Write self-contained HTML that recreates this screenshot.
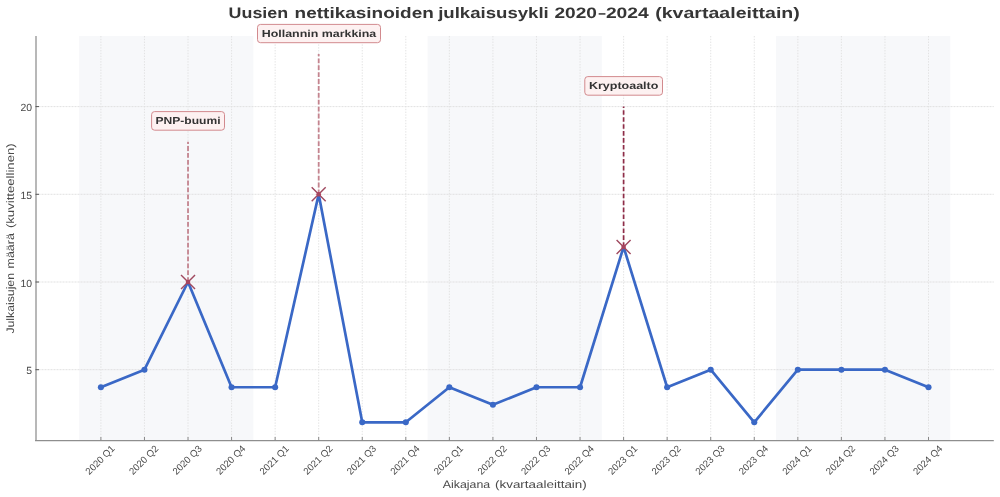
<!DOCTYPE html>
<html><head><meta charset="utf-8"><style>
html,body{margin:0;padding:0;background:#fff;width:1000px;height:497px;overflow:hidden}
svg{display:block;will-change:transform}
text{font-family:"Liberation Sans",sans-serif;text-rendering:geometricPrecision}
.tk{font-size:10.4px;fill:#484848}
.tkx{font-size:9.6px;fill:#484848}
.lab{font-size:10.8px;fill:#4a4a4a}
.title{font-size:15.2px;font-weight:bold;fill:#363636}
.ann{font-size:10.2px;font-weight:bold;fill:#333}
</style></head><body>
<svg width="1000" height="497" viewBox="0 0 1000 497">
<rect x="0" y="0" width="1000" height="497" fill="#ffffff"/>
<rect x="79.12" y="36.0" width="174.23" height="404.5" fill="#f7f8fa"/>
<rect x="427.59" y="36.0" width="174.23" height="404.5" fill="#f7f8fa"/>
<rect x="776.05" y="36.0" width="174.23" height="404.5" fill="#f7f8fa"/>
<line x1="35.5" y1="369.70" x2="993.8" y2="369.70" stroke="#dedede" stroke-width="0.9" stroke-dasharray="2 1"/>
<line x1="35.5" y1="282.00" x2="993.8" y2="282.00" stroke="#dedede" stroke-width="0.9" stroke-dasharray="2 1"/>
<line x1="35.5" y1="194.30" x2="993.8" y2="194.30" stroke="#dedede" stroke-width="0.9" stroke-dasharray="2 1"/>
<line x1="35.5" y1="106.60" x2="993.8" y2="106.60" stroke="#dedede" stroke-width="0.9" stroke-dasharray="2 1"/>
<line x1="100.90" y1="36.0" x2="100.90" y2="440.5" stroke="#e0e0e0" stroke-width="0.9" stroke-dasharray="1.4 1.4"/>
<line x1="144.46" y1="36.0" x2="144.46" y2="440.5" stroke="#e0e0e0" stroke-width="0.9" stroke-dasharray="1.4 1.4"/>
<line x1="188.02" y1="36.0" x2="188.02" y2="440.5" stroke="#e0e0e0" stroke-width="0.9" stroke-dasharray="1.4 1.4"/>
<line x1="231.57" y1="36.0" x2="231.57" y2="440.5" stroke="#e0e0e0" stroke-width="0.9" stroke-dasharray="1.4 1.4"/>
<line x1="275.13" y1="36.0" x2="275.13" y2="440.5" stroke="#e0e0e0" stroke-width="0.9" stroke-dasharray="1.4 1.4"/>
<line x1="318.69" y1="36.0" x2="318.69" y2="440.5" stroke="#e0e0e0" stroke-width="0.9" stroke-dasharray="1.4 1.4"/>
<line x1="362.25" y1="36.0" x2="362.25" y2="440.5" stroke="#e0e0e0" stroke-width="0.9" stroke-dasharray="1.4 1.4"/>
<line x1="405.81" y1="36.0" x2="405.81" y2="440.5" stroke="#e0e0e0" stroke-width="0.9" stroke-dasharray="1.4 1.4"/>
<line x1="449.36" y1="36.0" x2="449.36" y2="440.5" stroke="#e0e0e0" stroke-width="0.9" stroke-dasharray="1.4 1.4"/>
<line x1="492.92" y1="36.0" x2="492.92" y2="440.5" stroke="#e0e0e0" stroke-width="0.9" stroke-dasharray="1.4 1.4"/>
<line x1="536.48" y1="36.0" x2="536.48" y2="440.5" stroke="#e0e0e0" stroke-width="0.9" stroke-dasharray="1.4 1.4"/>
<line x1="580.04" y1="36.0" x2="580.04" y2="440.5" stroke="#e0e0e0" stroke-width="0.9" stroke-dasharray="1.4 1.4"/>
<line x1="623.60" y1="36.0" x2="623.60" y2="440.5" stroke="#e0e0e0" stroke-width="0.9" stroke-dasharray="1.4 1.4"/>
<line x1="667.15" y1="36.0" x2="667.15" y2="440.5" stroke="#e0e0e0" stroke-width="0.9" stroke-dasharray="1.4 1.4"/>
<line x1="710.71" y1="36.0" x2="710.71" y2="440.5" stroke="#e0e0e0" stroke-width="0.9" stroke-dasharray="1.4 1.4"/>
<line x1="754.27" y1="36.0" x2="754.27" y2="440.5" stroke="#e0e0e0" stroke-width="0.9" stroke-dasharray="1.4 1.4"/>
<line x1="797.83" y1="36.0" x2="797.83" y2="440.5" stroke="#e0e0e0" stroke-width="0.9" stroke-dasharray="1.4 1.4"/>
<line x1="841.39" y1="36.0" x2="841.39" y2="440.5" stroke="#e0e0e0" stroke-width="0.9" stroke-dasharray="1.4 1.4"/>
<line x1="884.94" y1="36.0" x2="884.94" y2="440.5" stroke="#e0e0e0" stroke-width="0.9" stroke-dasharray="1.4 1.4"/>
<line x1="928.50" y1="36.0" x2="928.50" y2="440.5" stroke="#e0e0e0" stroke-width="0.9" stroke-dasharray="1.4 1.4"/>
<rect x="35" y="36.0" width="2" height="404.5" fill="#b8b8b8"/>
<rect x="35" y="440" width="958.80" height="1" fill="#8e8e8e"/><rect x="35" y="441" width="958.80" height="0.5" fill="#c8c8c8"/>
<line x1="35.5" y1="369.70" x2="39.0" y2="369.70" stroke="#555" stroke-width="1"/>
<line x1="35.5" y1="282.00" x2="39.0" y2="282.00" stroke="#555" stroke-width="1"/>
<line x1="35.5" y1="194.30" x2="39.0" y2="194.30" stroke="#555" stroke-width="1"/>
<line x1="35.5" y1="106.60" x2="39.0" y2="106.60" stroke="#555" stroke-width="1"/>
<line x1="100.90" y1="440.5" x2="100.90" y2="437.0" stroke="#888" stroke-width="1"/>
<line x1="144.46" y1="440.5" x2="144.46" y2="437.0" stroke="#888" stroke-width="1"/>
<line x1="188.02" y1="440.5" x2="188.02" y2="437.0" stroke="#888" stroke-width="1"/>
<line x1="231.57" y1="440.5" x2="231.57" y2="437.0" stroke="#888" stroke-width="1"/>
<line x1="275.13" y1="440.5" x2="275.13" y2="437.0" stroke="#888" stroke-width="1"/>
<line x1="318.69" y1="440.5" x2="318.69" y2="437.0" stroke="#888" stroke-width="1"/>
<line x1="362.25" y1="440.5" x2="362.25" y2="437.0" stroke="#888" stroke-width="1"/>
<line x1="405.81" y1="440.5" x2="405.81" y2="437.0" stroke="#888" stroke-width="1"/>
<line x1="449.36" y1="440.5" x2="449.36" y2="437.0" stroke="#888" stroke-width="1"/>
<line x1="492.92" y1="440.5" x2="492.92" y2="437.0" stroke="#888" stroke-width="1"/>
<line x1="536.48" y1="440.5" x2="536.48" y2="437.0" stroke="#888" stroke-width="1"/>
<line x1="580.04" y1="440.5" x2="580.04" y2="437.0" stroke="#888" stroke-width="1"/>
<line x1="623.60" y1="440.5" x2="623.60" y2="437.0" stroke="#888" stroke-width="1"/>
<line x1="667.15" y1="440.5" x2="667.15" y2="437.0" stroke="#888" stroke-width="1"/>
<line x1="710.71" y1="440.5" x2="710.71" y2="437.0" stroke="#888" stroke-width="1"/>
<line x1="754.27" y1="440.5" x2="754.27" y2="437.0" stroke="#888" stroke-width="1"/>
<line x1="797.83" y1="440.5" x2="797.83" y2="437.0" stroke="#888" stroke-width="1"/>
<line x1="841.39" y1="440.5" x2="841.39" y2="437.0" stroke="#888" stroke-width="1"/>
<line x1="884.94" y1="440.5" x2="884.94" y2="437.0" stroke="#888" stroke-width="1"/>
<line x1="928.50" y1="440.5" x2="928.50" y2="437.0" stroke="#888" stroke-width="1"/>
<text x="32" y="374.40" text-anchor="end" class="tk">5</text>
<text x="32" y="286.70" text-anchor="end" class="tk">10</text>
<text x="32" y="199.00" text-anchor="end" class="tk">15</text>
<text x="32" y="111.30" text-anchor="end" class="tk">20</text>
<text transform="translate(115.40,449.3) rotate(-45)" text-anchor="end" class="tkx">2020 Q1</text>
<text transform="translate(158.96,449.3) rotate(-45)" text-anchor="end" class="tkx">2020 Q2</text>
<text transform="translate(202.52,449.3) rotate(-45)" text-anchor="end" class="tkx">2020 Q3</text>
<text transform="translate(246.07,449.3) rotate(-45)" text-anchor="end" class="tkx">2020 Q4</text>
<text transform="translate(289.63,449.3) rotate(-45)" text-anchor="end" class="tkx">2021 Q1</text>
<text transform="translate(333.19,449.3) rotate(-45)" text-anchor="end" class="tkx">2021 Q2</text>
<text transform="translate(376.75,449.3) rotate(-45)" text-anchor="end" class="tkx">2021 Q3</text>
<text transform="translate(420.31,449.3) rotate(-45)" text-anchor="end" class="tkx">2021 Q4</text>
<text transform="translate(463.86,449.3) rotate(-45)" text-anchor="end" class="tkx">2022 Q1</text>
<text transform="translate(507.42,449.3) rotate(-45)" text-anchor="end" class="tkx">2022 Q2</text>
<text transform="translate(550.98,449.3) rotate(-45)" text-anchor="end" class="tkx">2022 Q3</text>
<text transform="translate(594.54,449.3) rotate(-45)" text-anchor="end" class="tkx">2022 Q4</text>
<text transform="translate(638.10,449.3) rotate(-45)" text-anchor="end" class="tkx">2023 Q1</text>
<text transform="translate(681.65,449.3) rotate(-45)" text-anchor="end" class="tkx">2023 Q2</text>
<text transform="translate(725.21,449.3) rotate(-45)" text-anchor="end" class="tkx">2023 Q3</text>
<text transform="translate(768.77,449.3) rotate(-45)" text-anchor="end" class="tkx">2023 Q4</text>
<text transform="translate(812.33,449.3) rotate(-45)" text-anchor="end" class="tkx">2024 Q1</text>
<text transform="translate(855.89,449.3) rotate(-45)" text-anchor="end" class="tkx">2024 Q2</text>
<text transform="translate(899.44,449.3) rotate(-45)" text-anchor="end" class="tkx">2024 Q3</text>
<text transform="translate(943.00,449.3) rotate(-45)" text-anchor="end" class="tkx">2024 Q4</text>
<text x="442.80" y="488" class="lab" textLength="47.40" lengthAdjust="spacingAndGlyphs">Aikajana</text>
<text x="495.00" y="488" class="lab" textLength="91.80" lengthAdjust="spacingAndGlyphs">(kvartaaleittain)</text>
<text transform="translate(13.8,333.60) rotate(-90)" class="lab" textLength="60.60" lengthAdjust="spacingAndGlyphs">Julkaisujen</text>
<text transform="translate(13.8,268.40) rotate(-90)" class="lab" textLength="35.20" lengthAdjust="spacingAndGlyphs">määrä</text>
<text transform="translate(13.8,228.10) rotate(-90)" class="lab" textLength="84.80" lengthAdjust="spacingAndGlyphs">(kuvitteellinen)</text>
<text x="228.60" y="17.6" class="title" textLength="59.60" lengthAdjust="spacingAndGlyphs">Uusien</text>
<text x="294.60" y="17.6" class="title" textLength="139.20" lengthAdjust="spacingAndGlyphs">nettikasinoiden</text>
<text x="438.20" y="17.6" class="title" textLength="110.60" lengthAdjust="spacingAndGlyphs">julkaisusykli</text>
<text x="554.50" y="17.6" class="title" textLength="42.50" lengthAdjust="spacingAndGlyphs">2020</text>
<text x="598.20" y="17.6" class="title" textLength="7.60" lengthAdjust="spacingAndGlyphs">–</text>
<text x="605.90" y="17.6" class="title" textLength="42.90" lengthAdjust="spacingAndGlyphs">2024</text>
<text x="655.20" y="17.6" class="title" textLength="144.60" lengthAdjust="spacingAndGlyphs">(kvartaaleittain)</text>
<polyline points="100.90,387.24 144.46,369.70 188.02,282.00 231.57,387.24 275.13,387.24 318.69,194.30 362.25,422.32 405.81,422.32 449.36,387.24 492.92,404.78 536.48,387.24 580.04,387.24 623.60,246.92 667.15,387.24 710.71,369.70 754.27,422.32 797.83,369.70 841.39,369.70 884.94,369.70 928.50,387.24" fill="none" stroke="#3a68c6" stroke-width="2.7" stroke-linejoin="round" stroke-linecap="round"/>
<circle cx="100.90" cy="387.24" r="3.05" fill="#3a68c6"/>
<circle cx="144.46" cy="369.70" r="3.05" fill="#3a68c6"/>
<circle cx="231.57" cy="387.24" r="3.05" fill="#3a68c6"/>
<circle cx="275.13" cy="387.24" r="3.05" fill="#3a68c6"/>
<circle cx="362.25" cy="422.32" r="3.05" fill="#3a68c6"/>
<circle cx="405.81" cy="422.32" r="3.05" fill="#3a68c6"/>
<circle cx="449.36" cy="387.24" r="3.05" fill="#3a68c6"/>
<circle cx="492.92" cy="404.78" r="3.05" fill="#3a68c6"/>
<circle cx="536.48" cy="387.24" r="3.05" fill="#3a68c6"/>
<circle cx="580.04" cy="387.24" r="3.05" fill="#3a68c6"/>
<circle cx="667.15" cy="387.24" r="3.05" fill="#3a68c6"/>
<circle cx="710.71" cy="369.70" r="3.05" fill="#3a68c6"/>
<circle cx="754.27" cy="422.32" r="3.05" fill="#3a68c6"/>
<circle cx="797.83" cy="369.70" r="3.05" fill="#3a68c6"/>
<circle cx="841.39" cy="369.70" r="3.05" fill="#3a68c6"/>
<circle cx="884.94" cy="369.70" r="3.05" fill="#3a68c6"/>
<circle cx="928.50" cy="387.24" r="3.05" fill="#3a68c6"/>
<line x1="188.02" y1="282.00" x2="188.02" y2="141.68" stroke="#c4848f" stroke-width="1.8" stroke-dasharray="4.8 2.1"/>
<circle cx="188.02" cy="282.00" r="2.3" fill="#b8375a"/>
<path d="M181.02,275.00L195.02,289.00M181.02,289.00L195.02,275.00" stroke="#a04a60" stroke-width="1.45"/>
<rect x="151.60" y="111.60" width="72.90" height="18.60" rx="3" fill="#fdf1f1" stroke="#d28a8e" stroke-width="1"/>
<text x="188.05" y="124.00" text-anchor="middle" class="ann" textLength="65" lengthAdjust="spacingAndGlyphs">PNP-buumi</text>
<line x1="318.69" y1="194.30" x2="318.69" y2="53.98" stroke="#c4848f" stroke-width="1.8" stroke-dasharray="4.8 2.1"/>
<circle cx="318.69" cy="194.30" r="2.3" fill="#b8375a"/>
<path d="M311.69,187.30L325.69,201.30M311.69,201.30L325.69,187.30" stroke="#a04a60" stroke-width="1.45"/>
<rect x="257.50" y="24.40" width="123.00" height="18.30" rx="3" fill="#fdf1f1" stroke="#d28a8e" stroke-width="1"/>
<text x="319.00" y="36.50" text-anchor="middle" class="ann" textLength="114.5" lengthAdjust="spacingAndGlyphs">Hollannin markkina</text>
<line x1="623.60" y1="246.92" x2="623.60" y2="106.60" stroke="#8e2d48" stroke-width="1.7" stroke-dasharray="4.6 2.35"/>
<circle cx="623.60" cy="246.92" r="2.3" fill="#b8375a"/>
<path d="M616.60,239.92L630.60,253.92M616.60,253.92L630.60,239.92" stroke="#a04a60" stroke-width="1.45"/>
<rect x="584.80" y="76.60" width="77.70" height="18.60" rx="3" fill="#fdf1f1" stroke="#d28a8e" stroke-width="1"/>
<text x="623.65" y="89.00" text-anchor="middle" class="ann" textLength="69.5" lengthAdjust="spacingAndGlyphs">Kryptoaalto</text>
</svg></body></html>
